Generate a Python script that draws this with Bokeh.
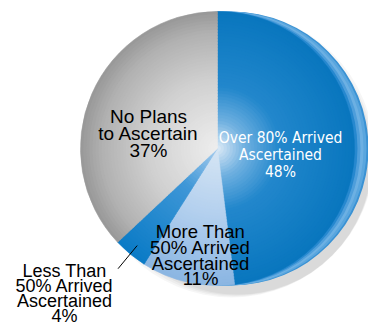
import numpy as np
from bokeh.plotting import figure
from bokeh.models import Range1d, ColumnDataSource
from bokeh.core.properties import value
from bokeh.embed import file_html
from bokeh.resources import INLINE

# ---- data ----
categories = ["Over 80% Arrived\nAscertained", "More Than\n50% Arrived\nAscertained",
              "Less Than\n50% Arrived\nAscertained", "No Plans\nto Ascertain"]
percents = [48, 11, 4, 37]

# ---- layout (pixel coords, y measured from top) ----
W, H = 368, 325
def Y(img_y):
    return H - img_y

CX, CY, R = 217, Y(148), 137

p = figure(width=W, height=H, x_range=Range1d(0, W), y_range=Range1d(0, H),
           output_backend="svg", toolbar_location=None, min_border=0,
           x_axis_location=None, y_axis_location=None)
p.grid.visible = False
p.outline_line_color = None
p.background_fill_color = "white"
p.border_fill_color = "white"

def hex2rgb(h):
    h = h.lstrip("#")
    return np.array([int(h[i:i + 2], 16) for i in (0, 2, 4)], dtype=float)

def interp(stops, t):
    ts = [s[0] for s in stops]
    cs = [hex2rgb(s[1]) for s in stops]
    for i in range(len(ts) - 1):
        if ts[i] <= t <= ts[i + 1]:
            f = (t - ts[i]) / (ts[i + 1] - ts[i])
            c = cs[i] * (1 - f) + cs[i + 1] * f
            return "#%02x%02x%02x" % tuple(int(round(v)) for v in c)
    c = cs[-1]
    return "#%02x%02x%02x" % tuple(int(round(v)) for v in c)

# soft shadow
for k, a in enumerate([0.035, 0.035, 0.04, 0.04]):
    p.circle(x=CX + 14 + k * 2, y=CY - 6 - k * 2, radius=R + 6 - k * 3,
             fill_color="black", fill_alpha=a, line_color=None)

# 3D rim (offset discs behind the pie)
rim = [(14, "#3a92d4"), (12, "#5aa6de"), (9, "#6cb0e3"), (6, "#4e9edb"), (3, "#2688cf")]
for off, col in rim:
    p.circle(x=CX + off, y=CY, radius=R, fill_color=col, line_color=None)

# slice shading stops (radial)
stops = [
    [(0, "#dbe9f6"), (0.2, "#6fb0e0"), (0.45, "#2287cc"), (1, "#0876be")],
    [(0, "#d6e6f4"), (0.5, "#b2cfee"), (1, "#8ab5e2")],
    [(0, "#a8cdee"), (0.35, "#3f97d7"), (1, "#0a7bc6")],
    [(0, "#eeeeee"), (0.5, "#d0d0d0"), (0.85, "#b0b0b0"), (1, "#979797")],
]

vals = np.array(percents, dtype=float)
frac = vals / vals.sum()
cum = np.concatenate([[0], np.cumsum(frac)])
starts = np.pi / 2 - 2 * np.pi * cum[1:]
ends = np.pi / 2 - 2 * np.pi * cum[:-1]

N = 45
xs, ys, rs, sa, ea, cols = [], [], [], [], [], []
for k in range(N, 0, -1):
    r = R * k / N
    t = (k - 0.5) / N
    for i in range(len(vals)):
        xs.append(CX); ys.append(CY); rs.append(r)
        sa.append(starts[i]); ea.append(ends[i])
        cols.append(interp(stops[i], t))
src = ColumnDataSource(dict(x=xs, y=ys, r=rs, s=sa, e=ea, c=cols))
p.wedge(x="x", y="y", radius="r", start_angle="s", end_angle="e",
        fill_color="c", line_color="c", line_width=0.6, source=src)

# leader line for the small slice
mid = (starts[2] + ends[2]) / 2
r1, r2 = 126, 156
p.line(x=[CX + r1 * np.cos(mid), CX + r2 * np.cos(mid)],
       y=[CY + r1 * np.sin(mid), CY + r2 * np.sin(mid)],
       line_color="black", line_width=1)

# labels
label_specs = [
    # cx, first baseline (px from top), spacing, font, size, color
    (280, 137.7, 17.0, "DejaVu Sans Condensed", "15.5px", "white"),
    (200, 230.7, 15.9, "Liberation Sans", "18.5px", "black"),
    (64, 270.0, 15.0, "Liberation Sans", "18px", "black"),
    (148, 115.7, 17.0, "Liberation Sans", "19px", "black"),
]
for i, (lx, by, sp, font, fs, col) in enumerate(label_specs):
    lines = categories[i].split("\n") + ["%d%%" % percents[i]]
    p.text(x=[lx] * len(lines), y=[Y(by + j * sp) for j in range(len(lines))],
           text=lines, text_align="center", text_baseline="alphabetic",
           text_font=value(font), text_font_size=fs, text_color=col)

open("out.html", "w").write(file_html(p, INLINE))
